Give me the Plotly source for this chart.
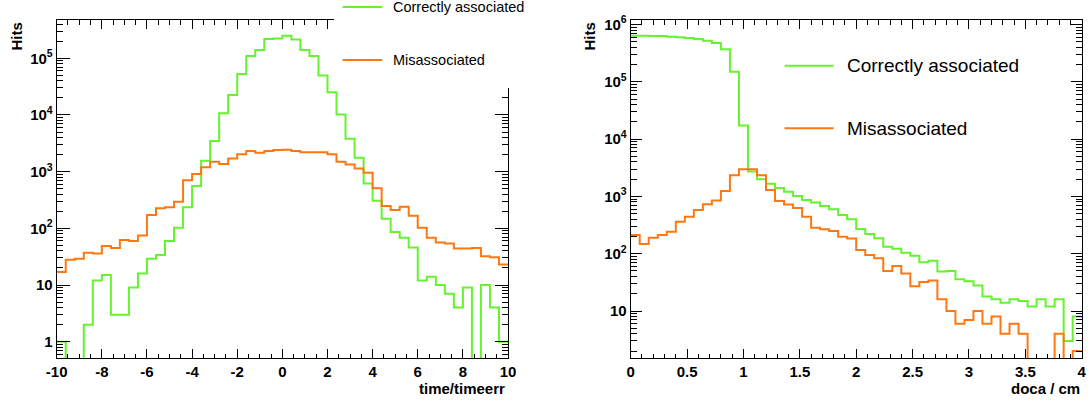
import numpy as np
import plotly.graph_objects as go

# ---------------- data ----------------
# left panel: time/timeerr, 50 bins from -10 to 10
time_lo, time_hi, time_nbins = -10.0, 10.0, 50
time_correct = [1, 0, 0, 2, 12, 15, 3, 3, 9, 16,
                29, 34, 60, 102, 235, 557, 1550, 3470, 10700, 22400,
                52600, 110000, 140000, 219000, 224000, 249000, 215000, 140000, 110000, 49900,
                25100, 10200, 3800, 1760, 620, 307, 148, 86, 68, 46,
                12, 14, 10, 7, 4, 9, 0, 10, 4, 1]
time_mis = [17, 28, 29, 37, 36, 49, 45, 62, 60, 75,
            172, 225, 235, 295, 705, 907, 1190, 1500, 1360, 1710,
            2020, 2310, 2150, 2310, 2400, 2430, 2310, 2190, 2190, 2190,
            2020, 1500, 1330, 1140, 960, 508, 247, 210, 240, 167,
            102, 68, 56, 54, 44, 44, 45, 32, 31, 23]

# right panel: doca / cm, 50 bins from 0 to 4
doca_lo, doca_hi, doca_nbins = 0.0, 4.0, 50
doca_correct = [638000, 638000, 630000, 630000, 612000, 598000, 581000, 560000, 520000, 475000,
                369000, 150000, 17300, 2730, 1990, 1660, 1400, 1210, 1020, 865,
                785, 680, 595, 473, 398, 270, 220, 186, 132, 122,
                104, 92, 71, 75, 49, 50, 36, 33, 28, 18,
                16, 14, 16, 15, 12, 16, 12, 16, 3, 8]
doca_mis = [212, 147, 190, 212, 242, 362, 443, 579, 732, 850,
            1240, 2330, 2970, 2970, 2330, 1290, 830, 720, 630, 443,
            284, 266, 249, 198, 185, 116, 95, 83, 50, 61,
            45, 27, 32, 34, 16, 10, 6, 7, 10, 6,
            8, 4, 6, 4, 0, 0, 0, 4, 0, 2]

left_xticks = [-10, -8, -6, -4, -2, 0, 2, 4, 6, 8, 10]
left_xticktext = ["-10", "-8", "-6", "-4", "-2", "0", "2", "4", "6", "8", "10"]
right_xticks = [0, 0.5, 1, 1.5, 2, 2.5, 3, 3.5, 4]
right_xticktext = ["0", "0.5", "1", "1.5", "2", "2.5", "3", "3.5", "4"]
left_yticks = [1, 10, 100, 1000, 10000, 100000]
left_yticktext = ["1", "10", "10<sup>2</sup>", "10<sup>3</sup>", "10<sup>4</sup>", "10<sup>5</sup>"]
right_yticks = [10, 100, 1000, 10000, 100000, 1000000]
right_yticktext = ["10", "10<sup>2</sup>", "10<sup>3</sup>", "10<sup>4</sup>", "10<sup>5</sup>", "10<sup>6</sup>"]

series_names = ["Correctly associated", "Misassociated"]

# ---------------- style ----------------
W, H = 1091, 402
GREEN = "#66f22e"
ORANGE = "#ff7711"
FONT = "Liberation Sans, Arial, Helvetica, sans-serif"


def px(x):
    return x / W


def py(y):
    return 1 - y / H


def bold(labels):
    return ["<b>" + t + "</b>" for t in labels]


def step_xy(lo, hi, n, vals):
    edges = np.linspace(lo, hi, n + 1)
    v = np.array(vals, dtype=float)
    v[v <= 0] = 1e-3  # empty bins fall below the axis
    return edges, np.append(v, v[-1])


fig = go.Figure()

for (lo, hi, n, vals, col, xa, ya) in [
    (time_lo, time_hi, time_nbins, time_correct, GREEN, "x", "y"),
    (time_lo, time_hi, time_nbins, time_mis, ORANGE, "x", "y"),
    (doca_lo, doca_hi, doca_nbins, doca_correct, GREEN, "x2", "y2"),
    (doca_lo, doca_hi, doca_nbins, doca_mis, ORANGE, "x2", "y2"),
]:
    xs, ys = step_xy(lo, hi, n, vals)
    fig.add_trace(go.Scatter(x=xs, y=ys, mode="lines", line=dict(color=col, width=2, shape="hv"),
                             xaxis=xa, yaxis=ya, showlegend=False, hoverinfo="skip"))


def log_minor(e0, e1):
    return [m * 10.0 ** e for e in range(e0, e1) for m in range(2, 10)]


tickfont = dict(family=FONT, size=15, color="black")
common = dict(showline=True, linecolor="black", linewidth=1, mirror="ticks", ticks="inside",
              tickcolor="black", tickwidth=1, showgrid=False, zeroline=False, tickfont=tickfont,
              automargin=False)

ydom = [py(358.3), py(20)]
fig.update_layout(
    template="none",
    width=W, height=H, autosize=False,
    margin=dict(l=0, r=0, t=0, b=0, pad=0, autoexpand=False),
    paper_bgcolor="white", plot_bgcolor="white",
    xaxis=dict(domain=[px(56.7), px(508)], range=[time_lo, time_hi], tickmode="array",
               tickvals=left_xticks, ticktext=bold(left_xticktext), ticklen=9,
               minor=dict(ticks="inside", ticklen=4.5, tick0=0, dtick=0.5, tickcolor="black", showgrid=False),
               anchor="y", **common),
    yaxis=dict(domain=ydom, type="log", range=[-0.293, 5.675], tickmode="array",
               tickvals=left_yticks, ticktext=bold(left_yticktext), ticklen=13,
               minor=dict(ticks="inside", ticklen=6.5, tickmode="array", tickvals=log_minor(-1, 6),
                          tickcolor="black", showgrid=False),
               anchor="x", **common),
    xaxis2=dict(domain=[px(630.7), px(1081.7)], range=[doca_lo, doca_hi], tickmode="array",
                tickvals=right_xticks, ticktext=bold(right_xticktext), ticklen=9,
                minor=dict(ticks="inside", ticklen=4.5, tick0=0, dtick=0.1, tickcolor="black", showgrid=False),
                anchor="y2", **common),
    yaxis2=dict(domain=ydom, type="log", range=[0.175, 6.078], tickmode="array",
                tickvals=right_yticks, ticktext=bold(right_yticktext), ticklen=11,
                minor=dict(ticks="inside", ticklen=6, tickmode="array", tickvals=log_minor(0, 7),
                           tickcolor="black", showgrid=False),
                anchor="x2", **common),
)

shapes = []
# left legend box (white, covers top-right corner of the frame)
shapes.append(dict(type="rect", xref="paper", yref="paper", x0=px(334), x1=px(548), y0=py(88), y1=py(-5),
                   fillcolor="white", line=dict(width=0), layer="above"))
leg = [
    # (x0, x1, y, color, text, text_x, size)
    (342.6, 382.2, 7, GREEN, series_names[0], 391, 14.5),
    (342.6, 382.2, 60, ORANGE, series_names[1], 391, 14.5),
    (784.5, 833.6, 65.7, GREEN, series_names[0], 844.5, 19),
    (784.5, 833.6, 128.3, ORANGE, series_names[1], 844.5, 19),
]
annotations = []
for x0, x1, y, col, txt, tx, sz in leg:
    shapes.append(dict(type="line", xref="paper", yref="paper", x0=px(x0), x1=px(x1), y0=py(y), y1=py(y),
                       line=dict(color=col, width=2), layer="above"))
    annotations.append(dict(xref="paper", yref="paper", x=px(tx), y=py(y), xanchor="left", yanchor="middle",
                            text=txt, showarrow=False, font=dict(family=FONT, size=sz, color="black")))

titlefont = dict(family=FONT, size=15, color="black")
annotations += [
    dict(xref="paper", yref="paper", x=px(16), y=py(36.5), xanchor="center", yanchor="middle", textangle=-90,
         text="<b>Hits</b>", showarrow=False, font=titlefont),
    dict(xref="paper", yref="paper", x=px(589), y=py(36.5), xanchor="center", yanchor="middle", textangle=-90,
         text="<b>Hits</b>", showarrow=False, font=titlefont),
    dict(xref="paper", yref="paper", x=px(507), y=py(388), xanchor="right", yanchor="middle",
         text="<b>time/timeerr</b>", showarrow=False, font=titlefont),
    dict(xref="paper", yref="paper", x=px(1082), y=py(388), xanchor="right", yanchor="middle",
         text="<b>doca / cm</b>", showarrow=False, font=titlefont),
]
fig.update_layout(shapes=shapes, annotations=annotations)

fig.write_html("out.html", config={"displayModeBar": False},
               post_script="document.body.style.margin='0';document.body.style.overflow='hidden';")
